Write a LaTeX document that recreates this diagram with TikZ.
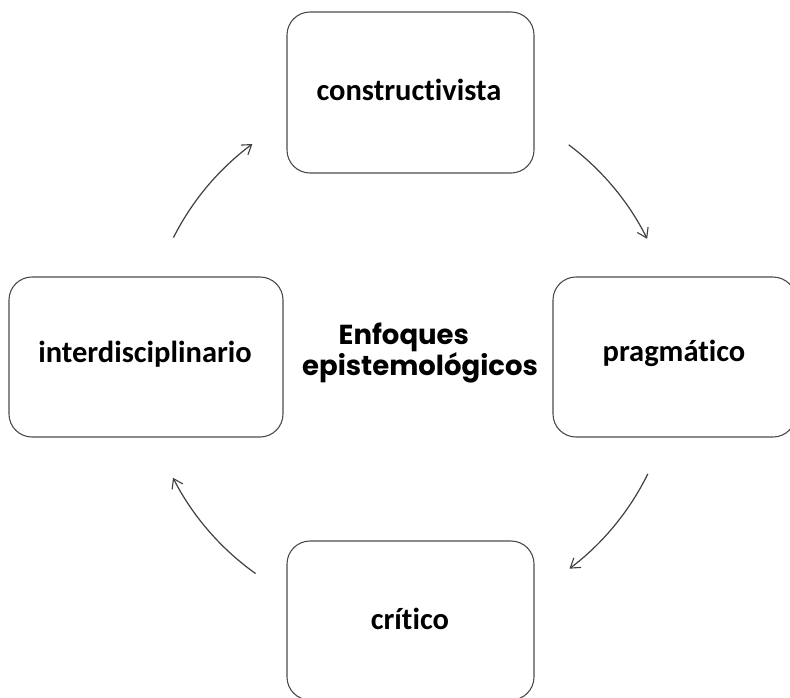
\documentclass[tikz,border=0pt]{standalone}
\usepackage{fontspec}
\setmainfont{Carlito}[RawFeature={-liga}]
\newfontfamily\titlefont{Poppins}
\usetikzlibrary{arrows.meta}
\begin{document}
\begin{tikzpicture}[x=1pt,y=1pt,
  card/.style={draw=black!70, line width=1.1pt, rounded corners=23pt, fill=white},
  cardtext/.style={font=\fontsize{30.5}{36}\selectfont\bfseries, inner sep=0pt, anchor=base},
  arr/.style={draw=black!75, line width=1.2pt, -{Straight Barb[length=9pt,width=12pt,line width=1.1pt]}}]
\useasboundingbox (0,0) rectangle (790,-697);
\clip (0,0) rectangle (790,-697);
% boxes
\node[card, minimum width=247pt, minimum height=161pt] (top) at (410.5,-92.5) {};
\node[card, minimum width=243pt, minimum height=160pt] (right) at (674.5,-357) {};
\node[card, minimum width=274pt, minimum height=160pt] (left) at (146,-357) {};
\node[card, minimum width=247pt, minimum height=159pt] (bottom) at (410.5,-620.5) {};
% texts
\node[cardtext] (ttop) at (409,-100) {constructivista};
\node[cardtext] (tright) at (674,-361) {pragmático};
\node[cardtext] (tleft) at (145,-362) {interdisciplinario};
\node[cardtext] (tbottom) at (410,-629) {crítico};
% centre
\coordinate (c) at (410,-357);
\node[font=\titlefont\fontsize{27.5}{31}\selectfont\bfseries, align=center, inner sep=0pt, anchor=base] (center) at (420,-375)
  {Enfoques\hphantom{xx}\\epistemológicos};
% arrows
\draw[arr] ([shift={(53.2:265)}]c) arc[start angle=53.2, end angle=26.5, radius=265];
\draw[arr] ([shift={(-26.2:265)}]c) arc[start angle=-26.2, end angle=-53.0, radius=265];
\draw[arr] ([shift={(-125.5:266)}]c) arc[start angle=-125.5, end angle=-153.0, radius=266];
\draw[arr] ([shift={(153.2:265)}]c) arc[start angle=153.2, end angle=126.5, radius=265];
\end{tikzpicture}
\end{document}
